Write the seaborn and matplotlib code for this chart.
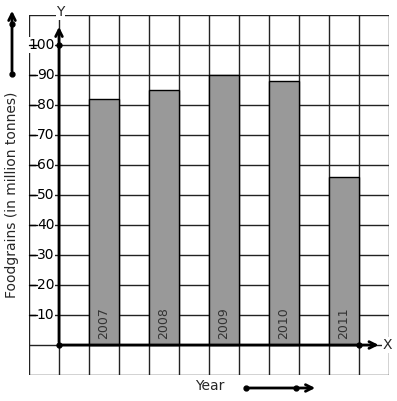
import matplotlib
matplotlib.use('Agg')
import matplotlib.pyplot as plt
import seaborn as sns
import pandas as pd

sns.set_theme(style='white')
plt.rcParams['font.family'] = ['DejaVu Sans']

years = ['2007', '2008', '2009', '2010', '2011']
foodgrains = [82, 85, 90, 88, 56]
yticks = [10, 20, 30, 40, 50, 60, 70, 80, 90, 100]

df = pd.DataFrame({'year': years, 'value': foodgrains})
df['pos'] = [1.5 + 2 * i for i in range(len(years))]

fig = plt.figure(figsize=(3.97, 4.01), dpi=100)
ax = fig.add_axes([29 / 397, 26 / 401, 360 / 397, 360 / 401])
ax.set_xlim(-1, 11)
ax.set_ylim(-10, 110)
ax.axis('off')

# grid
for gx in range(-1, 12):
    ax.plot([gx, gx], [-10, 110], color='#222222', lw=1, zorder=1)
for gy in range(-10, 111, 10):
    ax.plot([-1, 11], [gy, gy], color='#222222', lw=1, zorder=1)

sns.barplot(data=df, x='pos', y='value', native_scale=True, width=0.5,
            color='#999999', saturation=1, edgecolor='black', linewidth=1,
            ax=ax, zorder=2)
ax.set_xlim(-1, 11)
ax.set_ylim(-10, 110)
ax.axis('off')

for p, yr in zip(df['pos'], df['year']):
    ax.text(p, 2, yr, rotation=90, ha='center', va='bottom',
            fontsize=9, color='#333333', zorder=4)

# tick labels
for v in yticks:
    ax.text(-0.15, v, str(v), ha='right', va='center', fontsize=10,
            color='black', zorder=4,
            bbox=dict(facecolor='white', edgecolor='none', pad=0.5))
    ax.plot([-1, -0.72], [v, v], color='black', lw=1, zorder=5, clip_on=False)

# main axes with arrows
ax.annotate('', xy=(10.75, 0), xytext=(0, 0),
            arrowprops=dict(arrowstyle='->', color='black', lw=2), zorder=5)
ax.annotate('', xy=(0, 107), xytext=(0, 0),
            arrowprops=dict(arrowstyle='->', color='black', lw=2), zorder=5)
ax.plot([0, 0, 10], [0, 100, 0], 'o', color='black', ms=3.5, zorder=6)
ax.text(0.05, 111, 'Y', ha='center', va='center', fontsize=10, zorder=6,
        clip_on=False, bbox=dict(facecolor='white', edgecolor='none', pad=0.5))
ax.text(10.95, 0, 'X', ha='center', va='center', fontsize=10, zorder=6,
        clip_on=False, bbox=dict(facecolor='white', edgecolor='none', pad=0.5))

# labels
fig.text(12 / 397, 1 - 195 / 401, 'Foodgrains (in million tonnes)',
         rotation=90, ha='center', va='center', fontsize=10)
fig.text(210 / 397, 1 - 386 / 401, 'Year', ha='center', va='center', fontsize=10)

# side arrows
ax.annotate('', xy=(12 / 397, 1 - 8 / 401), xytext=(12 / 397, 1 - 74 / 401),
            xycoords='figure fraction', textcoords='figure fraction',
            arrowprops=dict(arrowstyle='->', color='black', lw=2))
fig.add_artist(plt.Line2D([12 / 397, 12 / 397], [1 - 24 / 401, 1 - 74 / 401],
                          marker='o', ms=3.5, color='black', lw=0))
ax.annotate('', xy=(318 / 397, 1 - 388 / 401), xytext=(246 / 397, 1 - 388 / 401),
            xycoords='figure fraction', textcoords='figure fraction',
            arrowprops=dict(arrowstyle='->', color='black', lw=2))
fig.add_artist(plt.Line2D([246 / 397, 296 / 397], [1 - 388 / 401, 1 - 388 / 401],
                          marker='o', ms=3.5, color='black', lw=0))

fig.savefig('out.png', dpi=100, facecolor='white')
